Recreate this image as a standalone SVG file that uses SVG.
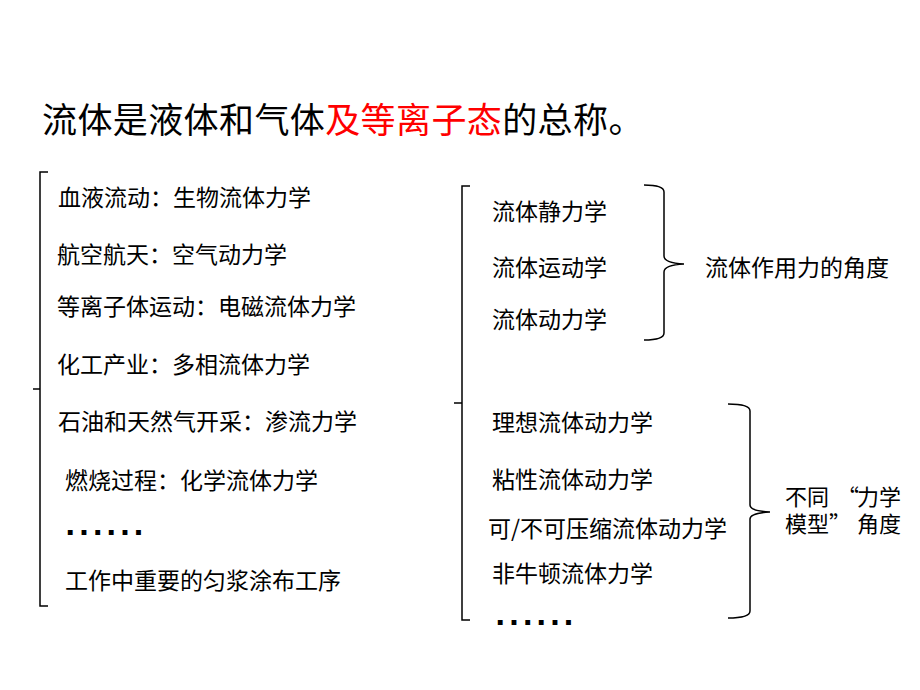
<svg xmlns="http://www.w3.org/2000/svg" width="920" height="690" viewBox="0 0 920 690">
<style>
.t{font-family:"Noto Sans CJK SC","Noto Sans",sans-serif;font-size:23px;fill:#000}
.t2{font-family:"Noto Sans CJK SC","Noto Sans",sans-serif;font-size:22px;fill:#000}
.title{font-family:"Noto Sans CJK SC","Noto Sans",sans-serif;font-size:35px;fill:#000}
.red{fill:#FF0000}
.dots{font-family:"Liberation Sans",Arial,sans-serif;font-weight:bold;font-size:34px;letter-spacing:4.2px;fill:#000}
.ln{fill:none;stroke:#000;stroke-width:1.5}
</style>
<rect width="920" height="690" fill="#fff"/>
<g id="title"><text class="title" x="42" y="133" letter-spacing="0.4">流体是液体和气体<tspan class="red">及等离子态</tspan>的总称。</text></g>
<g id="connectors">
<path class="ln" d="M48,172 L40,172 L40,606 L48,606 M33,389 L40,389"/>
<path class="ln" d="M470,186 L462,186 L462,620 L470,620 M454,403 L462,403"/>
<path class="ln" d="M644,185 Q664,185 664,192 L664,256 Q664,263 684,264 Q664,265 664,272 L664,333 Q664,340 644,340"/>
<path class="ln" d="M728,404 Q750,404 750,411 L750,505 Q750,511 770,512 Q750,513 750,519 L750,611 Q750,618 728,618"/>
</g>
<g id="applications">
<text class="t" x="58" y="206">血液流动：生物流体力学</text>
<text class="t" x="57" y="263">航空航天：空气动力学</text>
<text class="t" x="57" y="315">等离子体运动：电磁流体力学</text>
<text class="t" x="57" y="373">化工产业：多相流体力学</text>
<text class="t" x="58" y="430">石油和天然气开采：渗流力学</text>
<text class="t" x="65" y="489">燃烧过程：化学流体力学</text>
<text class="dots" x="65.6" y="535">......</text>
<text class="t" x="65" y="589">工作中重要的匀浆涂布工序</text>
</g>
<g id="force-view">
<text class="t" x="492" y="220">流体静力学</text>
<text class="t" x="492" y="276">流体运动学</text>
<text class="t" x="492" y="328">流体动力学</text>
<text class="t" x="705" y="276">流体作用力的角度</text>
</g>
<g id="model-view">
<text class="t" x="492" y="431">理想流体动力学</text>
<text class="t" x="492" y="488">粘性流体动力学</text>
<text class="t" x="488" y="537">可/不可压缩流体动力学</text>
<text class="t" x="492" y="582">非牛顿流体力学</text>
<text class="dots" x="495.6" y="625">......</text>
<text class="t2" x="785" y="505">不同<tspan x="837">“</tspan><tspan x="857">力学</tspan><tspan x="785" y="532">模型</tspan><tspan x="829" y="532">”</tspan><tspan x="857" y="532">角度</tspan></text>
</g>
</svg>
